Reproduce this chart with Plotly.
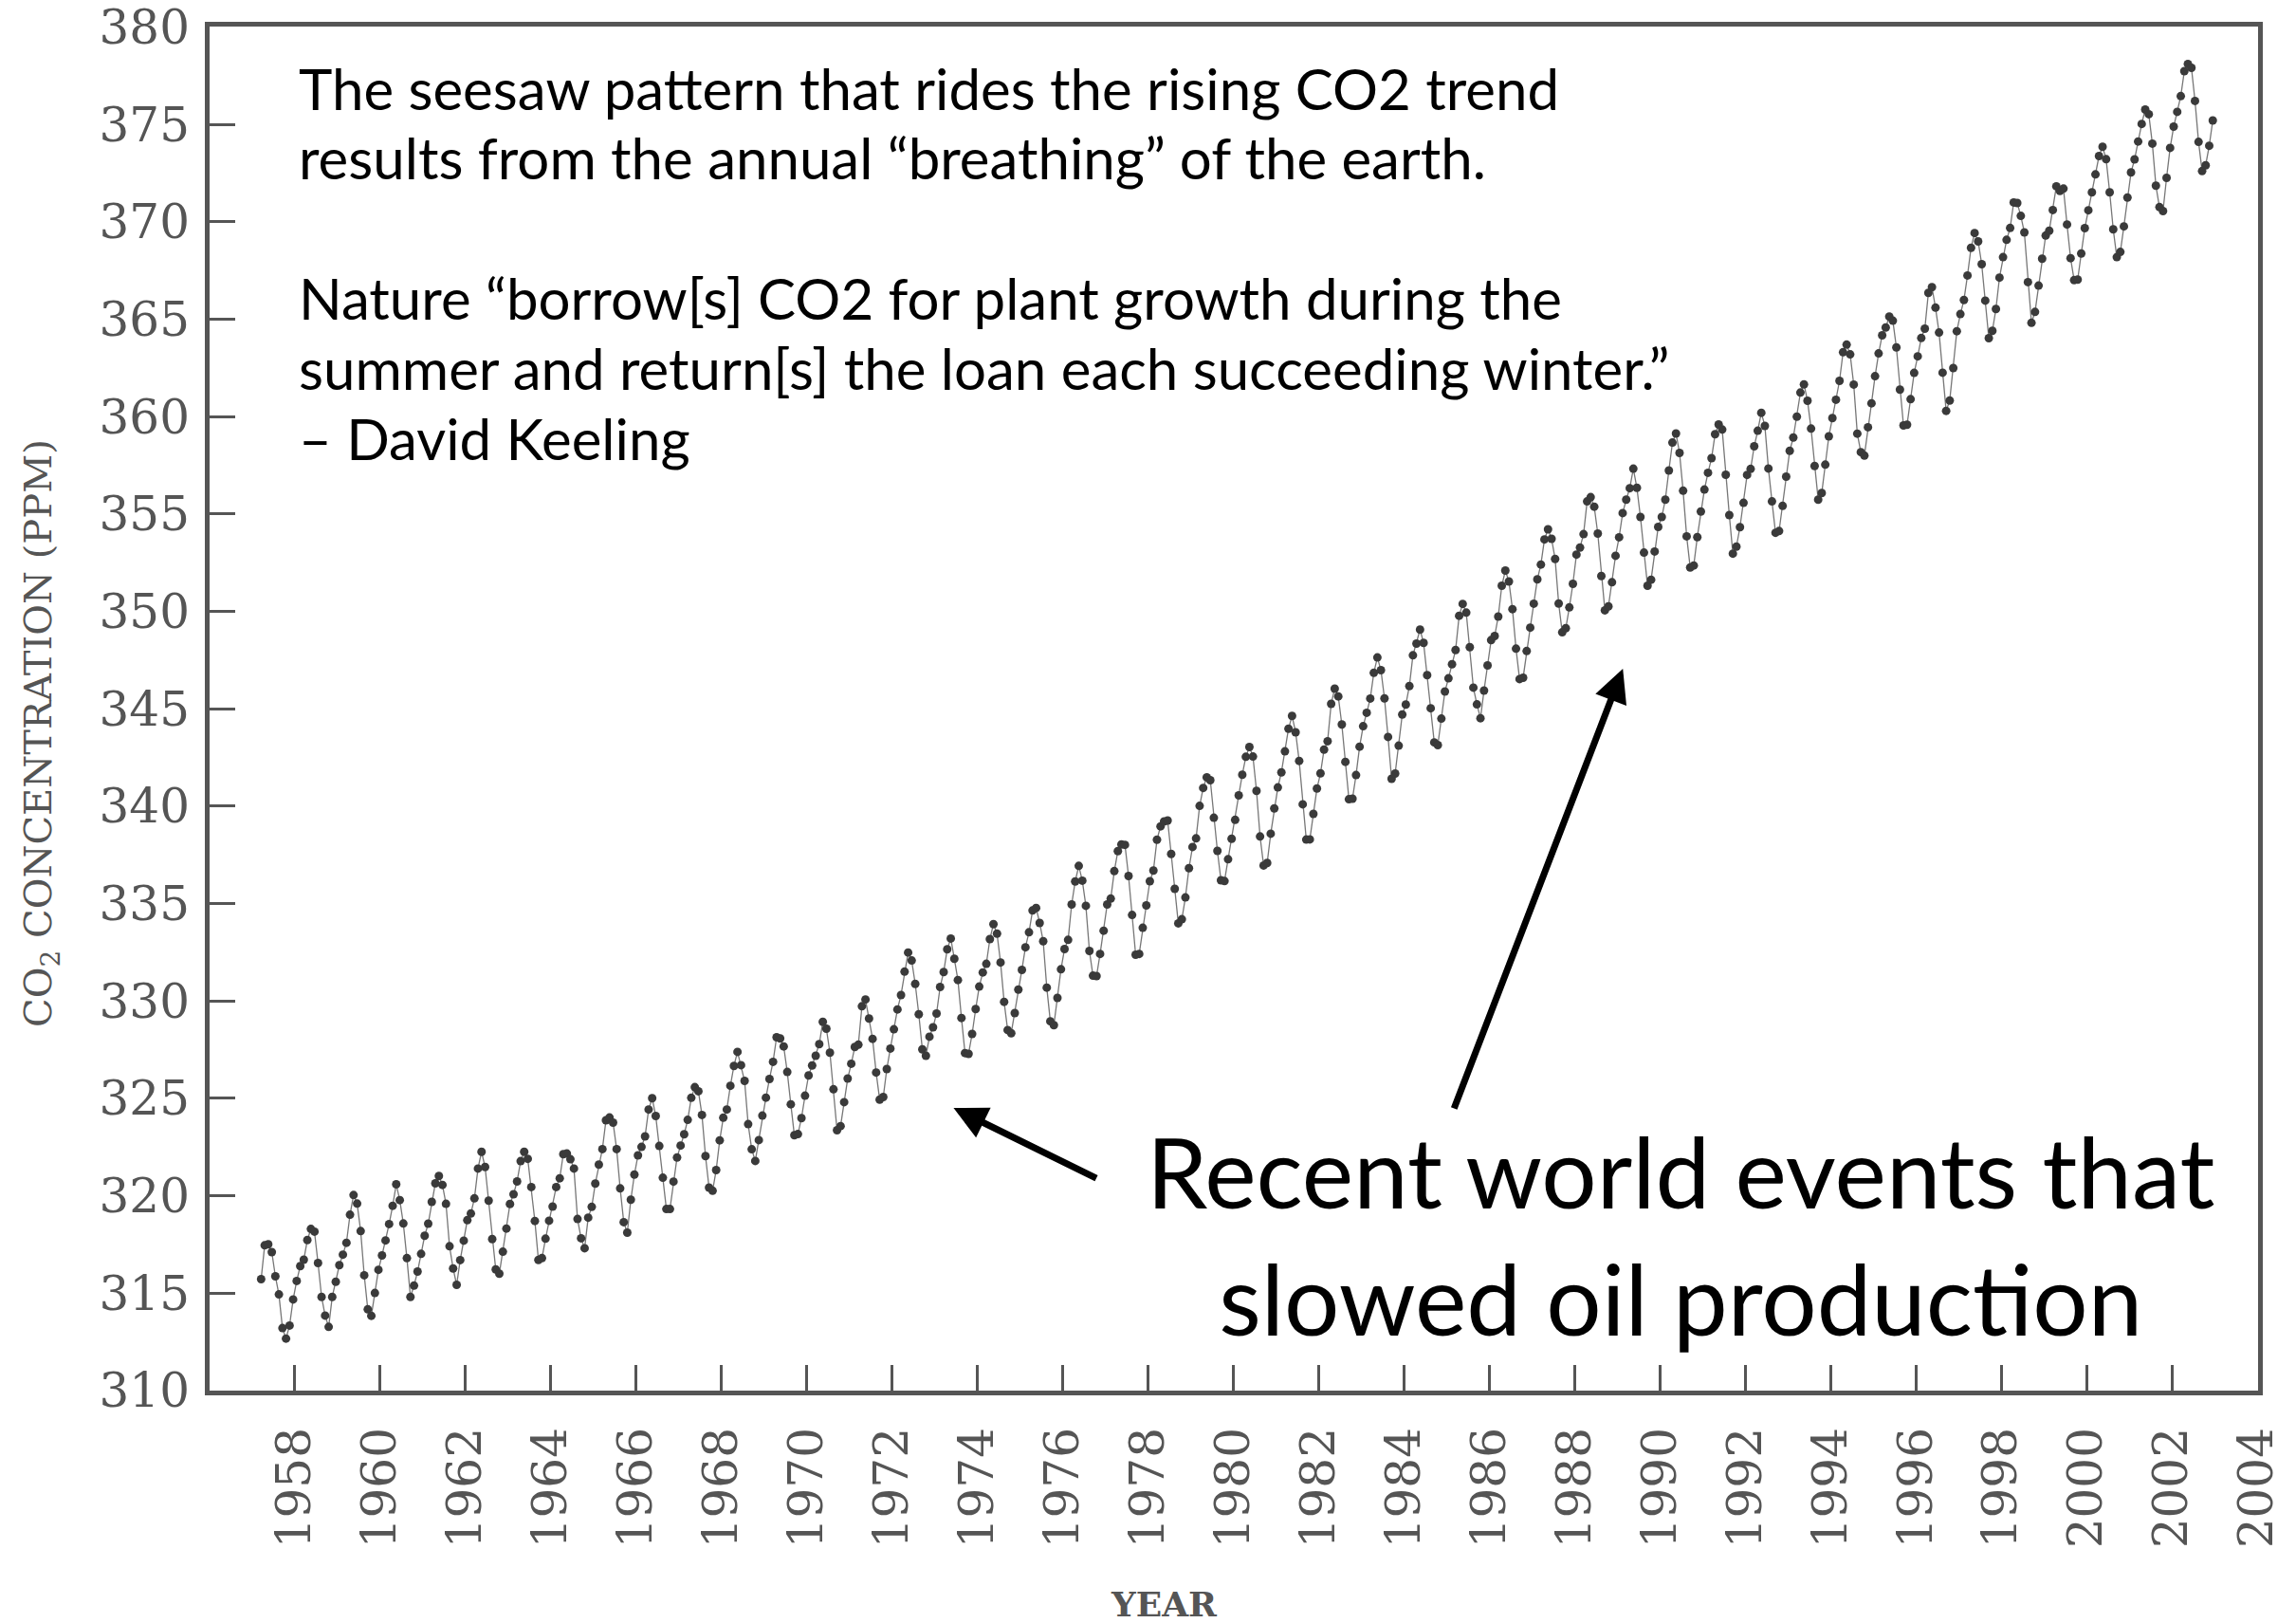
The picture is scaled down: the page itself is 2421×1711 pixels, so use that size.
import plotly.graph_objects as go

# Monthly mean CO2 at Mauna Loa (ppm), starting March 1958
first_year = 1958
first_month = 3

co2_1958 = [315.71, 317.45, 317.50, 317.10, 315.86, 314.93, 313.20, 312.66, 313.33, 314.67]

co2_1959_1964 = [
    315.62, 316.38, 316.71, 317.72, 318.29, 318.15, 316.54, 314.80, 313.84, 313.26, 314.80, 315.58,
    316.43, 316.97, 317.58, 319.02, 320.03, 319.59, 318.18, 315.91, 314.16, 313.83, 315.00, 316.19,
    316.93, 317.70, 318.54, 319.48, 320.58, 319.77, 318.57, 316.79, 314.80, 315.38, 316.10, 317.01,
    317.94, 318.56, 319.68, 320.63, 321.01, 320.55, 319.58, 317.40, 316.26, 315.42, 316.69, 317.69,
    318.74, 319.08, 319.86, 321.39, 322.25, 321.47, 319.74, 317.77, 316.21, 315.99, 317.12, 318.31,
    319.57, 320.07, 320.73, 321.77, 322.25, 321.89, 320.44, 318.70, 316.70, 316.79, 317.79, 318.71,
]

co2_1965_1974 = [
    319.44, 320.44, 320.89, 322.13, 322.16, 321.87, 321.39, 318.80, 317.81, 317.30, 318.87, 319.42,
    320.62, 321.59, 322.39, 323.87, 324.01, 323.75, 322.39, 320.37, 318.64, 318.10, 319.79, 321.08,
    322.07, 322.50, 323.04, 324.42, 325.00, 324.09, 322.55, 320.92, 319.31, 319.31, 320.72, 321.96,
    322.57, 323.15, 323.89, 325.02, 325.57, 325.36, 324.14, 322.03, 320.41, 320.25, 321.31, 322.84,
    324.00, 324.42, 325.64, 326.66, 327.38, 326.70, 325.89, 323.67, 322.38, 321.78, 322.85, 324.11,
    325.03, 325.99, 326.87, 328.13, 328.07, 327.66, 326.35, 324.69, 323.10, 323.16, 323.98, 325.13,
    326.17, 326.68, 327.18, 327.78, 328.92, 328.57, 327.34, 325.46, 323.36, 323.57, 324.80, 326.01,
    326.77, 327.63, 327.75, 329.72, 330.07, 329.09, 328.05, 326.32, 324.93, 325.06, 326.50, 327.55,
    328.54, 329.56, 330.30, 331.50, 332.48, 332.07, 330.87, 329.31, 327.51, 327.18, 328.16, 328.64,
    329.35, 330.71, 331.48, 332.65, 333.20, 332.16, 331.07, 329.12, 327.32, 327.28, 328.30, 329.58,
]

co2_1975_1984 = [
    330.73, 331.46, 331.90, 333.17, 333.94, 333.45, 331.97, 329.95, 328.50, 328.34, 329.37, 330.58,
    331.59, 332.75, 333.52, 334.64, 334.77, 334.00, 333.06, 330.68, 328.95, 328.75, 330.15, 331.62,
    332.66, 333.13, 334.95, 336.13, 336.93, 336.17, 334.88, 332.56, 331.29, 331.27, 332.41, 333.60,
    334.95, 335.25, 336.66, 337.69, 338.03, 338.01, 336.41, 334.41, 332.37, 332.41, 333.75, 334.90,
    336.14, 336.69, 338.27, 338.96, 339.21, 339.26, 337.54, 335.75, 333.98, 334.19, 335.31, 336.81,
    337.90, 338.34, 340.01, 340.93, 341.48, 341.33, 339.40, 337.70, 336.19, 336.15, 337.27, 338.32,
    339.29, 340.55, 341.61, 342.53, 343.03, 342.54, 340.78, 338.44, 336.95, 337.08, 338.58, 339.88,
    340.96, 341.73, 342.81, 343.97, 344.63, 343.79, 342.32, 340.09, 338.28, 338.29, 339.60, 340.90,
    341.68, 342.90, 343.33, 345.25, 346.03, 345.63, 344.19, 342.27, 340.35, 340.38, 341.59, 343.05,
    344.10, 344.79, 345.52, 346.84, 347.63, 346.98, 345.53, 343.55, 341.40, 341.67, 343.10, 344.70,
]

co2_1985_1994 = [
    345.21, 346.16, 347.74, 348.34, 349.06, 348.38, 346.72, 345.02, 343.27, 343.13, 344.49, 345.88,
    346.56, 347.28, 348.01, 349.77, 350.38, 349.93, 348.16, 346.08, 345.22, 344.51, 345.93, 347.22,
    348.52, 348.73, 349.73, 351.31, 352.09, 351.53, 350.11, 348.08, 346.52, 346.59, 347.96, 349.16,
    350.39, 351.64, 352.40, 353.69, 354.21, 353.72, 352.69, 350.40, 348.92, 349.13, 350.20, 351.41,
    352.91, 353.27, 353.96, 355.64, 355.86, 355.37, 353.99, 351.81, 350.05, 350.25, 351.49, 352.85,
    353.80, 355.04, 355.73, 356.32, 357.32, 356.34, 354.84, 353.01, 351.31, 351.62, 353.07, 354.33,
    354.84, 355.73, 357.23, 358.66, 359.13, 358.13, 356.19, 353.85, 352.25, 352.35, 353.81, 355.12,
    356.25, 357.11, 357.86, 359.09, 359.59, 359.33, 357.01, 354.94, 352.96, 353.32, 354.32, 355.57,
    357.00, 357.31, 358.47, 359.27, 360.19, 359.52, 357.33, 355.64, 354.03, 354.12, 355.41, 356.91,
    358.24, 358.92, 359.99, 361.23, 361.65, 360.81, 359.38, 357.46, 355.73, 356.07, 357.53, 358.98,
]

co2_1995_2003 = [
    359.92, 360.86, 361.83, 363.30, 363.69, 363.19, 361.64, 359.12, 358.17, 357.99, 359.45, 360.68,
    362.07, 363.24, 364.17, 364.57, 365.13, 364.92, 363.55, 361.38, 359.54, 359.58, 360.89, 362.24,
    363.09, 364.03, 364.51, 366.35, 366.64, 365.59, 364.31, 362.25, 360.29, 360.82, 362.49, 364.38,
    365.26, 365.98, 367.24, 368.66, 369.42, 368.99, 367.82, 365.95, 364.02, 364.40, 365.52, 367.13,
    368.18, 369.07, 369.68, 370.99, 370.96, 370.30, 369.45, 366.90, 364.81, 365.37, 366.72, 368.10,
    369.29, 369.54, 370.60, 371.82, 371.58, 371.70, 369.86, 368.13, 367.00, 367.03, 368.37, 369.67,
    370.59, 371.51, 372.43, 373.37, 373.85, 373.21, 371.51, 369.61, 368.18, 368.45, 369.76, 371.24,
    372.53, 373.20, 374.12, 375.02, 375.76, 375.52, 374.01, 371.85, 370.75, 370.55, 372.25, 373.79,
    374.88, 375.64, 376.45, 377.73, 378.10, 377.90, 376.20, 374.10, 372.60, 372.90, 373.90, 375.20,
]

tick_years = list(range(1958, 2005, 2))
y_ticks = list(range(310, 381, 5))

quote_lines = [
    'The seesaw pattern that rides the rising CO2 trend',
    'results from the annual \u201cbreathing\u201d of the earth.',
    '',
    'Nature \u201cborrow[s] CO2 for plant growth during the',
    'summer and return[s] the loan each succeeding winter.\u201d',
    '\u2013 David Keeling',
]

co2 = co2_1958 + co2_1959_1964 + co2_1965_1974 + co2_1975_1984 + co2_1985_1994 + co2_1995_2003

# decimal year at mid-month for every reading
dates = []
for i in range(len(co2)):
    m = first_month - 1 + i
    dates.append(first_year + m // 12 + (m % 12 + 0.5) / 12)

gray = '#555555'
serif = 'DejaVu Serif'
sans = 'Lato'

fig = go.Figure()

fig.add_trace(go.Scatter(x=dates, y=co2, mode='lines+markers',
                         line=dict(color='#777777', width=1.3),
                         marker=dict(size=9, color='#3a3a3a'),
                         showlegend=False))

# The year labels sit at the end of each year in the original figure
fig.update_xaxes(range=[1957, 2005.02], automargin=False,
                 tickvals=[y + 1 for y in tick_years], ticktext=[str(y) for y in tick_years],
                 tickangle=-90, ticks='inside', ticklen=27, tickwidth=3, tickcolor=gray,
                 ticklabelstandoff=14,
                 tickfont=dict(family=serif, size=50, color=gray),
                 showline=True, linewidth=5, linecolor=gray, mirror=True,
                 showgrid=False, zeroline=False)

fig.update_yaxes(range=[309.99, 380.02], tickvals=y_ticks, automargin=False,
                 ticks='inside', ticklen=27, tickwidth=3, tickcolor=gray,
                 ticklabelstandoff=6, ticklabeloverflow='allow',
                 tickfont=dict(family=serif, size=50, color=gray),
                 showline=True, linewidth=5, linecolor=gray, mirror=True,
                 showgrid=False, zeroline=False)

# axis titles
fig.add_annotation(text='CO<sub>2</sub> CONCENTRATION (PPM)', xref='paper', yref='paper',
                   x=-0.0824, y=0.482, xanchor='center', yanchor='middle',
                   textangle=-90, showarrow=False,
                   font=dict(family=serif, size=40, color=gray))
fig.add_annotation(text='<b>YEAR</b>', xref='paper', yref='paper',
                   x=0.466, y=-0.1565, xanchor='center', yanchor='middle', showarrow=False,
                   font=dict(family=serif, size=36, color=gray))

# quote block, one line at a time
for i, line in enumerate(quote_lines):
    if line:
        fig.add_annotation(text=line, xref='paper', yref='paper',
                           x=0.0426, y=0.9551 - 0.0514 * i,
                           xanchor='left', yanchor='middle', showarrow=False,
                           font=dict(family=sans, size=60, color='black'))

fig.add_annotation(text='Recent world events that<br>slowed oil production',
                   xref='paper', yref='paper', x=0.718, y=0.115,
                   xanchor='center', yanchor='middle', align='center', showarrow=False,
                   font=dict(family=sans, size=103, color='black'))

# arrows to the slowdowns
fig.add_annotation(x=1974.44, y=324.5, ax=1977.82, ay=320.86,
                   xref='x', yref='y', axref='x', ayref='y', text='',
                   showarrow=True, arrowhead=2, arrowsize=1, arrowwidth=7, arrowcolor='black')
fig.add_annotation(x=1990.13, y=347.05, ax=1986.16, ay=324.41,
                   xref='x', yref='y', axref='x', ayref='y', text='',
                   showarrow=True, arrowhead=2, arrowsize=1, arrowwidth=7, arrowcolor='black')

fig.update_layout(width=2421, height=1711,
                  margin=dict(l=221, r=40, t=28, b=245),
                  plot_bgcolor='white', paper_bgcolor='white')

fig.write_html("out.html", config={'displayModeBar': False},
               post_script="document.body.style.margin='0';")
